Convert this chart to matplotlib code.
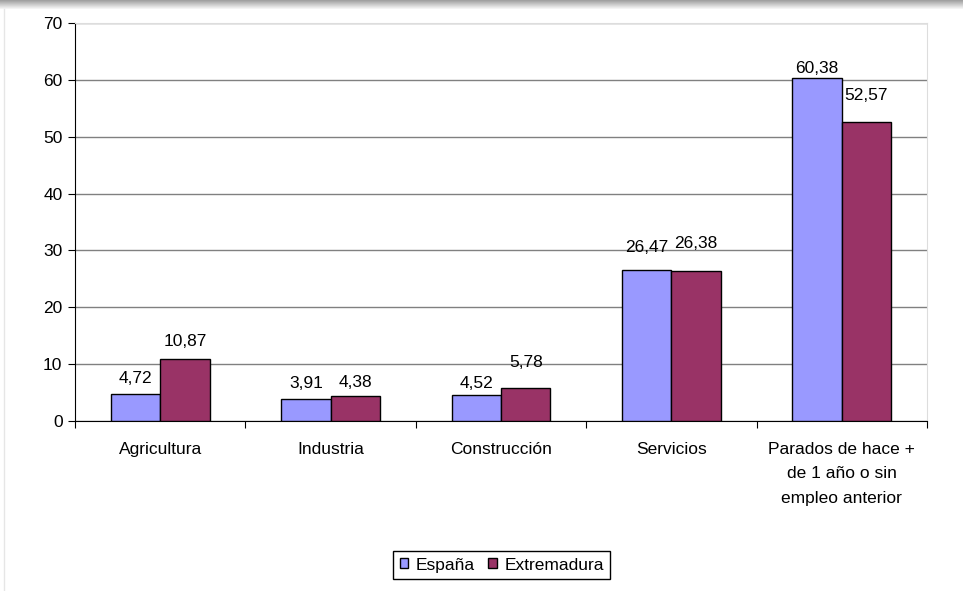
import numpy as np
import matplotlib
matplotlib.use('Agg')
import matplotlib.pyplot as plt

plt.rcParams['font.family'] = ['Liberation Sans', 'DejaVu Sans']

categories = ['Agricultura', 'Industria', 'Construcción', 'Servicios',
              'Parados de hace +\nde 1 año o sin\nempleo anterior']
espana = [4.72, 3.91, 4.52, 26.47, 60.38]
extremadura = [10.87, 4.38, 5.78, 26.38, 52.57]
labels_esp = ['4,72', '3,91', '4,52', '26,47', '60,38']
labels_ext = ['10,87', '4,38', '5,78', '26,38', '52,57']

# label distance above each bar (px), as placed in the original
nudge_esp = [16, 15, 12, 23, 9]
nudge_ext = [18, 14, 26, 28, 27]

FS = 12.5

fig = plt.figure(figsize=(9.63, 5.91), dpi=100)
# top shadow band like the original frame
band = fig.add_axes([0, 1 - 9 / 591, 1, 9 / 591])
band.imshow(np.linspace(0.62, 0.97, 20).reshape(-1, 1), cmap='gray',
            aspect='auto', vmin=0, vmax=1)
band.axis('off')
fig.add_artist(plt.Line2D([4 / 963, 4 / 963], [0, 1 - 9 / 591],
                          color='#e6e6e6', lw=1))

ax = fig.add_axes([75 / 963, 1 - 421 / 591, 852 / 963, 398 / 591])
x = np.arange(len(categories))
w = 0.29
ax.bar(x - w / 2, espana, w, color='#9999ff', edgecolor='black', lw=1,
       label='España', zorder=3)
ax.bar(x + w / 2, extremadura, w, color='#993366', edgecolor='black', lw=1,
       label='Extremadura', zorder=3)

for i in range(len(categories)):
    ax.annotate(labels_esp[i], (x[i] - w / 2, espana[i]),
                xytext=(0, nudge_esp[i] * 0.72), textcoords='offset points',
                ha='center', va='center', fontsize=FS, zorder=4)
    ax.annotate(labels_ext[i], (x[i] + w / 2, extremadura[i]),
                xytext=(0, nudge_ext[i] * 0.72), textcoords='offset points',
                ha='center', va='center', fontsize=FS, zorder=4)

ax.set_xlim(-0.5, len(categories) - 0.5)
ax.set_ylim(0, 70)
ax.set_yticks(range(0, 71, 10))
ax.tick_params(axis='y', labelsize=FS, length=5, direction='out', pad=4)
ax.set_xticks(np.arange(-0.5, len(categories), 1))
ax.set_xticklabels([])
ax.tick_params(axis='x', length=5, direction='out')
ax.set_xticks(x, minor=True)
ax.set_xticklabels(categories, minor=True, fontsize=FS, linespacing=1.78)
ax.tick_params(axis='x', which='minor', length=0, pad=15)

ax.grid(axis='y', color='#808080', lw=1, zorder=0)
for s in ['top', 'right']:
    ax.spines[s].set_color('#dddddd')
ax.spines['left'].set_color('black')
ax.spines['bottom'].set_color('black')

ax.legend(loc='center', bbox_to_anchor=(0.501, -0.362), ncol=2, fontsize=FS,
          frameon=True, fancybox=False, edgecolor='black', handlelength=0.5,
          handleheight=0.5, handletextpad=0.45, columnspacing=0.75,
          borderpad=0.35, framealpha=1)

fig.savefig('out.png', dpi=100)
